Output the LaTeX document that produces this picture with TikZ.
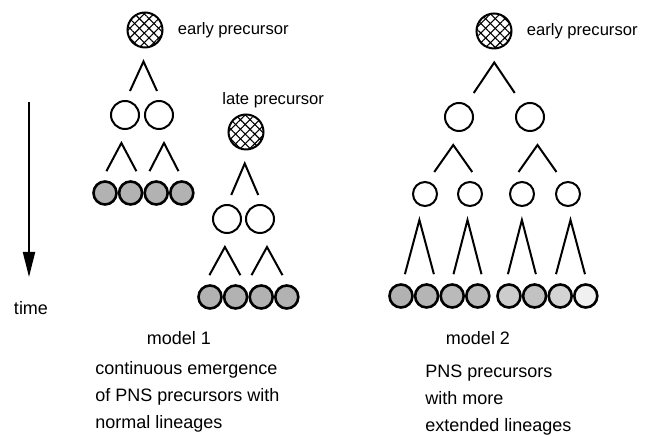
\documentclass[tikz,border=0pt]{standalone}
\usepackage{fontspec}
\setmainfont{Liberation Sans}
\usetikzlibrary{positioning,calc,patterns.meta,arrows.meta}

% fork from a parent cell down to its two daughters
\newcommand{\lineage}[4]{%
  \draw[branch] let \p1 = ($.5*(#1)+.25*(#2)+.25*(#3)$), \p2 = (#1.south), \p3 = (#2.north) in
    (\x1-#4,\y3+4.5pt) -- (\x1,\y2-6.5pt) -- (\x1+#4,\y3+4.5pt);}

\begin{document}
\begin{tikzpicture}[x=0.5pt, y=-0.5pt, node distance=0pt]
    % Define styles
    \tikzstyle{precursor} = [circle, draw, line width=1pt, minimum size=17.5pt, inner sep=0pt,
        path picture={
            \fill[pattern={Lines[angle=45,distance=3.4pt,line width=.55pt]}] (path picture bounding box.south west) rectangle (path picture bounding box.north east);
            \fill[pattern={Lines[angle=-45,distance=3.4pt,line width=.55pt]}] (path picture bounding box.south west) rectangle (path picture bounding box.north east);}]
    \tikzstyle{cell} = [circle, draw, line width=1pt, minimum size=14pt, inner sep=0pt]
    \tikzstyle{small cell} = [cell, minimum size=12pt]
    \tikzstyle{neuron} = [circle, draw, line width=1.3pt, minimum size=11.5pt, inner sep=0pt, fill=black!30]
    \tikzstyle{branch} = [line width=1pt]
    \tikzstyle{tag} = [inner sep=0pt, font=\fontsize{8.3}{10}\selectfont]
    \tikzstyle{caption} = [inner sep=0pt, align=left, font=\fontsize{9}{13.5}\selectfont]
    \tikzstyle{timeline} = [line width=1pt, -{Triangle[length=12.5pt,width=6pt]}]

    \useasboundingbox (0,0) rectangle (649,437);

    % Nodes: model 1
    \node [precursor] (early1) at (145,30) {};
    \node [tag, right=7pt of early1] (early1txt) {early precursor};
    \node [cell] (m1a) at (125,115) {};
    \node [cell] (m1b) at (159,115) {};
    \node [neuron] (m1n1) at (105,193) {};
    \node [neuron, right=of m1n1] (m1n2) {};
    \node [neuron, right=of m1n2] (m1n3) {};
    \node [neuron, right=of m1n3] (m1n4) {};

    \node [precursor] (late) at (246,132) {};
    \node [tag, anchor=west] (latetxt) at (222,100) {late precursor};
    \node [cell] (m1c) at (227,219) {};
    \node [cell] (m1d) at (260,219) {};
    \node [neuron] (m1n5) at (210,297) {};
    \node [neuron, right=of m1n5] (m1n6) {};
    \node [neuron, right=of m1n6] (m1n7) {};
    \node [neuron, right=of m1n7] (m1n8) {};

    % Nodes: model 2
    \node [precursor] (early2) at (494,31) {};
    \node [tag, right=7pt of early2] (early2txt) {early precursor};
    \node [cell] (m2a) at (459,117) {};
    \node [cell] (m2b) at (530,117) {};
    \node [small cell] (m2c) at (425,194) {};
    \node [small cell] (m2d) at (470,194) {};
    \node [small cell] (m2e) at (522,194) {};
    \node [small cell] (m2f) at (568,194) {};
    \node [neuron] (m2n1) at (401,296) {};
    \node [neuron, right=of m2n1, fill=black!29] (m2n2) {};
    \node [neuron, right=of m2n2, fill=black!27] (m2n3) {};
    \node [neuron, right=of m2n3, fill=black!27] (m2n4) {};
    \node [neuron, fill=black!20] (m2n5) at (509,296) {};
    \node [neuron, right=of m2n5, fill=black!24] (m2n6) {};
    \node [neuron, right=of m2n6, fill=black!17] (m2n7) {};
    \node [neuron, right=of m2n7, fill=black!6] (m2n8) {};

    % Lineages
    \lineage{early1}{m1a}{m1b}{6.75pt}
    \lineage{m1a}{m1n1}{m1n2}{7.5pt}
    \lineage{m1b}{m1n3}{m1n4}{7.25pt}
    \lineage{late}{m1c}{m1d}{6.75pt}
    \lineage{m1c}{m1n5}{m1n6}{7.75pt}
    \lineage{m1d}{m1n7}{m1n8}{7.75pt}
    \lineage{early2}{m2a}{m2b}{10.25pt}
    \lineage{m2a}{m2c}{m2d}{9.5pt}
    \lineage{m2b}{m2e}{m2f}{9.5pt}
    \lineage{m2c}{m2n1}{m2n2}{7.25pt}
    \lineage{m2d}{m2n3}{m2n4}{7pt}
    \lineage{m2e}{m2n5}{m2n6}{7pt}
    \lineage{m2f}{m2n7}{m2n8}{7.25pt}

    % Time axis
    \coordinate (t0) at (29,102);
    \coordinate (t1) at (29,277);
    \draw [timeline] (t0) -- (t1);
    \node [caption] (time) at (31,308) {time};

    % Captions
    \node [caption] (model1) at (179,338) {model 1};
    \node [caption, anchor=west] (model1txt) at (95,397) {continuous emergence\\of PNS precursors with\\normal lineages};
    \node [caption] (model2) at (478,338) {model 2};
    \node [caption, anchor=west] (model2txt) at (425,400) {PNS precursors\\with more\\extended lineages};
\end{tikzpicture}
\end{document}
